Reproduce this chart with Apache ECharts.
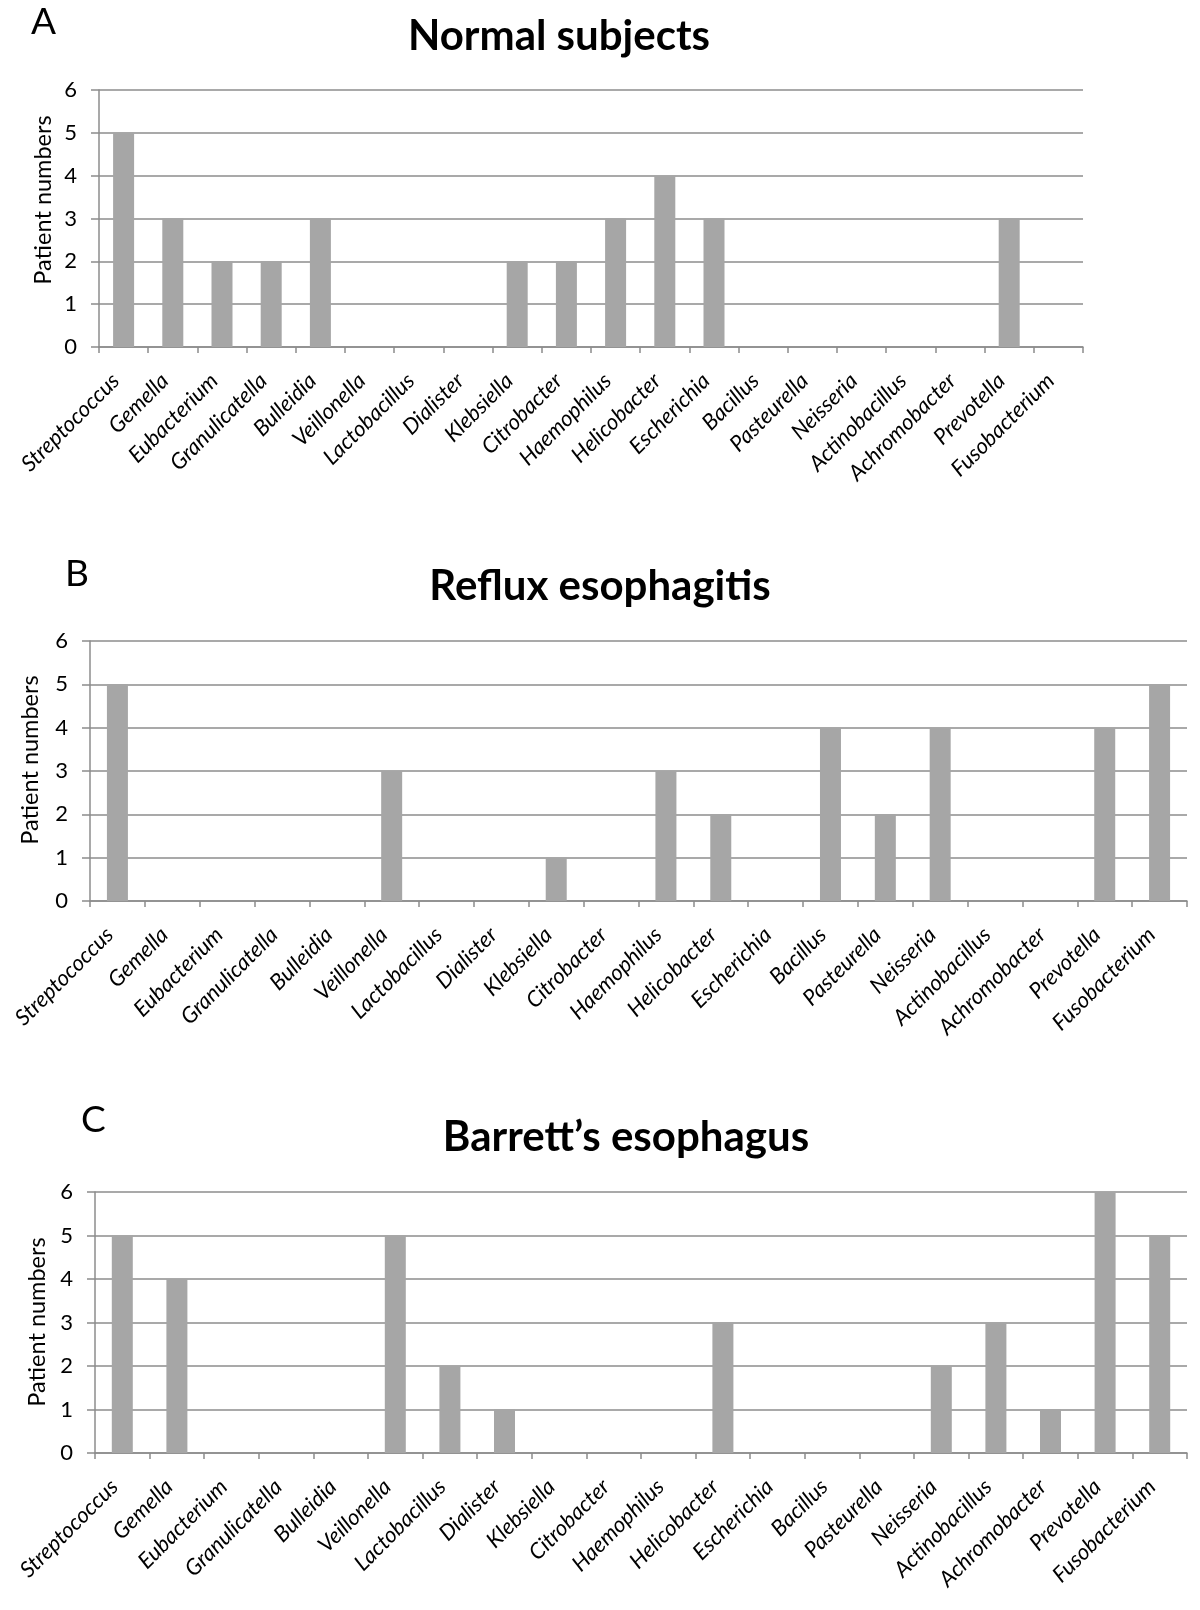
<!DOCTYPE html>
<html>
<head>
<meta charset="utf-8">
<script src="https://cdn.jsdelivr.net/npm/echarts@6/dist/echarts.min.js"></script>
<style>
html,body{margin:0;padding:0;background:#fff;}
#chart{width:1200px;height:1610px;}
</style>
</head>
<body>
<div id="chart"></div>
<script>
const categories = ['Streptococcus','Gemella','Eubacterium','Granulicatella','Bulleidia','Veillonella','Lactobacillus','Dialister','Klebsiella','Citrobacter','Haemophilus','Helicobacter','Escherichia','Bacillus','Pasteurella','Neisseria','Actinobacillus','Achromobacter','Prevotella','Fusobacterium'];
const normalSubjects   = [5,3,2,2,3,0,0,0,2,2,3,4,3,0,0,0,0,0,3,0];
const refluxEsophagitis = [5,0,0,0,0,3,0,0,1,0,3,2,0,4,2,4,0,0,4,5];
const barrettsEsophagus = [5,4,0,0,0,5,2,1,0,0,0,3,0,0,0,2,3,1,6,5];
const yTicks = [0,1,2,3,4,5,6];
const panelTitles = ['Normal subjects','Reflux esophagitis','Barrett\u2019s esophagus'];
const panelLetters = ['A','B','C'];
const yAxisName = 'Patient numbers';

const FONT = 'Lato';
const GRID_COLOR = '#8c8c8c';
const BAR_COLOR = '#a6a6a6';

const grids = [
  {left:99, top:90, width:984, height:257},
  {left:90, top:641, width:1097, height:260},
  {left:95, top:1192, width:1092, height:261}
];
const titlePos = [{x:554, top:10},{x:595, top:560},{x:621, top:1111}];
const letterPos = [{x:31, y:4},{x:65, y:556},{x:81, y:1102}];
const yNamePos = [{x:43, y:200},{x:30, y:760},{x:37, y:1322}];
const seriesData = [normalSubjects, refluxEsophagitis, barrettsEsophagus];

const option = {
  backgroundColor:'#fff',
  animation:false,
  title: panelTitles.map((t,i)=>({
    text:t, left:titlePos[i].x, top:titlePos[i].top, textAlign:'center',
    textStyle:{fontFamily:FONT, fontWeight:'bold', fontSize:42, color:'#000'}
  })),
  grid: grids.map(g=>Object.assign({containLabel:false}, g)),
  xAxis: grids.map((g,i)=>({
    type:'category', gridIndex:i, data:categories, boundaryGap:true,
    axisLine:{show:true, lineStyle:{color:GRID_COLOR, width:1.5}},
    axisTick:{show:true, interval:0, length:6, lineStyle:{color:GRID_COLOR, width:1.5}},
    axisLabel:{interval:0, rotate:45, margin:38, verticalAlign:'bottom', fontFamily:FONT, fontStyle:'italic', fontSize:22, color:'#000'},
    splitLine:{show:false}
  })),
  yAxis: grids.map((g,i)=>({
    type:'value', gridIndex:i, min:0, max:6, interval:1,
    axisLine:{show:true, lineStyle:{color:GRID_COLOR, width:1.5}},
    axisTick:{show:true, length:8, lineStyle:{color:GRID_COLOR, width:1.5}},
    axisLabel:{margin:22, fontFamily:FONT, fontSize:22, color:'#000',
      formatter:(v)=> yTicks.includes(v) ? String(v) : ''},
    splitLine:{show:true, lineStyle:{color:GRID_COLOR, width:1.5}}
  })),
  series: seriesData.map((d,i)=>({
    type:'bar', xAxisIndex:i, yAxisIndex:i, data:d, barWidth:21,
    itemStyle:{color:BAR_COLOR}, silent:true
  })),
  graphic: [
    ...panelLetters.map((l,i)=>({
      type:'text', left:letterPos[i].x, top:letterPos[i].y,
      style:{text:l, fontFamily:FONT, fontSize:37, fill:'#000'}
    })),
    ...yNamePos.map(p=>({
      type:'text', x:p.x, y:p.y, rotation:Math.PI/2,
      style:{text:yAxisName, fontFamily:FONT, fontSize:23.5, fill:'#000', align:'center', verticalAlign:'middle'}
    }))
  ]
};
const chart = echarts.init(document.getElementById('chart'), null, {renderer:'canvas'});
chart.setOption(option);
</script>
</body>
</html>
